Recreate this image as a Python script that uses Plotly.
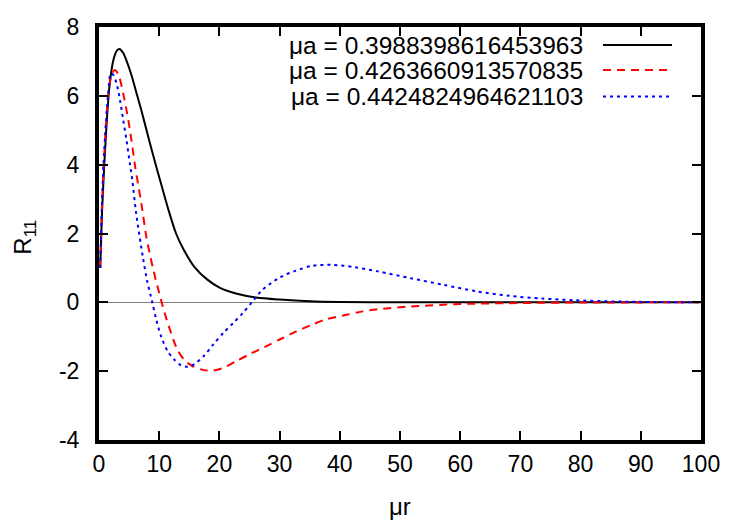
import plotly.graph_objects as go

# ---- data ----
labels = ["μa = 0.3988398616453963", "μa = 0.4263660913570835", "μa = 0.4424824964621103"]

r_black = [0.2, 0.35, 0.5, 0.75, 1.2, 1.75, 2.4, 3.0, 3.4, 4.0, 4.6, 5.4, 6.2, 7.0, 7.9, 8.95,
           10.3, 11.4, 12.8, 14.1, 15.8, 18.0, 20.1, 22.9, 26.1, 30, 35, 40, 50, 60, 80, 100]
v_black = [1.0, 1.8, 2.6, 3.55, 5.0, 6.3, 7.05, 7.32, 7.36, 7.25, 7.01, 6.6, 6.1, 5.6, 5.0, 4.3,
           3.45, 2.77, 2.0, 1.52, 1.04, 0.66, 0.42, 0.25, 0.14, 0.08, 0.03, 0.01, 0.0, 0.0, 0.0, 0.0]

r_red = [0.2, 0.35, 0.5, 0.75, 1.1, 1.5, 2.0, 2.6, 3.2, 4.04, 4.7, 5.4, 6.0, 7.04, 7.86, 8.95,
         10.0, 10.9, 11.95, 13.0, 14.1, 15.5, 17.4, 19.0, 20.7, 22.9, 25.0, 27.5, 30, 32.7, 35.4,
         37.6, 40.9, 43.6, 46.3, 51.8, 60, 70, 80, 100]
v_red = [1.0, 1.9, 2.8, 3.8, 5.0, 5.95, 6.55, 6.75, 6.63, 6.05, 5.47, 4.70, 3.95, 2.87, 1.91, 1.0,
         0.27, -0.31, -0.88, -1.37, -1.66, -1.85, -1.97, -1.98, -1.9, -1.7, -1.51, -1.3, -1.08, -0.85, -0.65,
         -0.5, -0.37, -0.27, -0.2, -0.12, -0.05, -0.02, -0.005, 0.0]

r_blue = [0.2, 0.35, 0.5, 0.75, 1.0, 1.5, 1.96, 2.4, 2.95, 3.5, 4.04, 4.58, 5.13, 5.5, 6.2, 7.3,
          8.0, 8.85, 9.5, 10.3, 11.4, 12.5, 13.6, 14.7, 15.8, 17.4, 19.0, 20.7, 22.3, 23.9, 25.4,
          27.2, 30, 32.7, 35.4, 38.7, 42.5, 46.3, 51.8, 57.2, 62.7, 68.1, 73.6, 79, 87.2, 100]
v_blue = [1.0, 2.0, 2.9, 4.0, 4.8, 6.0, 6.65, 6.6, 6.34, 5.86, 5.28, 4.70, 4.03, 3.6, 2.55, 1.3,
          0.62, 0.0, -0.5, -0.98, -1.42, -1.66, -1.83, -1.87, -1.8, -1.56, -1.22, -0.88, -0.6, -0.31, 0.0,
          0.37, 0.72, 0.92, 1.06, 1.09, 1.02, 0.90, 0.70, 0.51, 0.32, 0.19, 0.11, 0.06, 0.02, 0.0]

x_range = [0, 100]
y_range = [-4, 8]
x_ticks = list(range(0, 101, 10))
x_ticklabels = [str(t) for t in x_ticks]
y_ticks = list(range(-4, 9, 2))
y_ticklabels = [str(t) for t in y_ticks]   # plain hyphen minus, as in the reference
x_title = "μr"
y_title = "R<sub>11</sub>"

# ---- styles / layout geometry ----
series = [
    (r_black, v_black, "#000000", "solid"),
    (r_red, v_red, "#ff0000", "8px,6px"),
    (r_blue, v_blue, "#0000ff", "3px,4px"),
]
INK = "#000000"
FONT = "Liberation Sans"
W, H = 750, 525
L, R, T, B = 99, 49, 27, 85
PW, PH = W - L - R, H - T - B
YPAD = "\u00a0\u2009"   # gap between y tick labels and the frame


def px_to_paper_x(px):
    return (px - L) / PW


def px_to_paper_y(py):
    return (H - B - py) / PH


fig = go.Figure()
for (xs, ys, col, dash), name in zip(series, labels):
    fig.add_trace(go.Scatter(x=xs, y=ys, mode="lines", name=name,
                             line=dict(color=col, width=2, dash=dash, shape="spline", smoothing=0.8)))

# gnuplot-style key: text right-aligned, sample line to the right
key_rows_px = [45, 70, 96.5]
for (xs, ys, col, dash), name, ky in zip(series, labels, key_rows_px):
    yp = px_to_paper_y(ky)
    fig.add_annotation(x=px_to_paper_x(585), y=yp, xref="paper", yref="paper", text=name, showarrow=False,
                       xanchor="right", yanchor="middle", font=dict(family=FONT, size=24.5, color=INK))
    fig.add_shape(type="line", xref="paper", yref="paper", x0=px_to_paper_x(603), x1=px_to_paper_x(672),
                  y0=yp, y1=yp, line=dict(color=col, width=2, dash=dash))

# axis titles
fig.add_annotation(x=0.5, y=px_to_paper_y(507), xref="paper", yref="paper", text=x_title, showarrow=False,
                   xanchor="center", yanchor="middle", font=dict(family=FONT, size=24, color=INK))
fig.add_annotation(x=px_to_paper_x(25), y=0.49, xref="paper", yref="paper", text=y_title, showarrow=False,
                   textangle=-90, xanchor="center", yanchor="middle",
                   font=dict(family=FONT, size=24, color=INK))

# heavy frame with inside ticks on all four sides (gnuplot style)
frame = dict(showline=True, linewidth=4, linecolor=INK, mirror="allticks",
             ticks="inside", ticklen=9, tickwidth=2, tickcolor=INK, showgrid=False,
             tickfont=dict(family=FONT, size=23, color=INK))
fig.update_xaxes(range=x_range, tickvals=x_ticks, ticktext=x_ticklabels, zeroline=False, **frame)
fig.update_yaxes(range=y_range, tickvals=y_ticks, ticktext=[t + YPAD for t in y_ticklabels],
                 zeroline=True, zerolinecolor="#808080", zerolinewidth=1, **frame)

fig.update_layout(width=W, height=H, margin=dict(l=L, r=R, t=T, b=B),
                  paper_bgcolor="white", plot_bgcolor="white", showlegend=False)

fig.write_html("out.html")
